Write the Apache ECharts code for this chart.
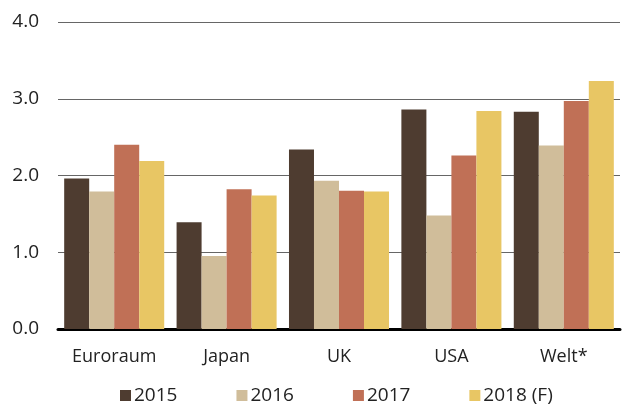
<!DOCTYPE html>
<html><head><meta charset="utf-8">
<script src="https://cdn.jsdelivr.net/npm/echarts@6/dist/echarts.min.js"></script>
<style>html,body{margin:0;padding:0;background:#fff}#c{width:623px;height:405px}</style>
</head><body><div id="c"></div>
<script>
const categories = ["Euroraum", "Japan", "UK", "USA", "Welt*"];
const seriesNames = ["2015", "2016", "2017", "2018 (F)"];
const v2015 = [1.96, 1.39, 2.34, 2.86, 2.83];
const v2016 = [1.79, 0.95, 1.93, 1.48, 2.39];
const v2017 = [2.40, 1.82, 1.80, 2.26, 2.97];
const v2018 = [2.19, 1.74, 1.79, 2.84, 3.23];
const colors = ["#4e3c30", "#d0bd9a", "#c07056", "#e8c664"];
const values = [v2015, v2016, v2017, v2018];
const font = "'Open Sans', 'Noto Sans', sans-serif";
const chart = echarts.init(document.getElementById('c'));
chart.setOption({
  animation: false,
  grid: {left: 58, right: 3, top: 22, bottom: 76, containLabel: false},
  legend: {
    top: 386, left: 120, itemWidth: 11, itemHeight: 11, itemGap: 59,
    icon: 'rect', padding: 0,
    textStyle: {fontFamily: font, fontSize: 19, color: '#222', lineHeight: 19, padding: [0, 0, 0, -2]},
    data: seriesNames
  },
  xAxis: {
    type: 'category', data: categories,
    axisLine: {lineStyle: {color: '#000', width: 3}},
    axisTick: {show: false},
    axisLabel: {fontFamily: font, fontSize: 18, color: '#222', margin: 19}
  },
  yAxis: {
    type: 'value', min: 0, max: 4, interval: 1,
    axisLabel: {fontFamily: font, fontSize: 19, color: '#222', margin: 19, formatter: v => v.toFixed(1)},
    axisLine: {show: false}, axisTick: {show: false},
    splitLine: {lineStyle: {color: '#666', width: 1}}
  },
  series: values.map((d, i) => ({
    name: seriesNames[i], type: 'bar', data: d,
    itemStyle: {color: colors[i]},
    barGap: '0%', barCategoryGap: '11%'
  }))
});
</script></body></html>
